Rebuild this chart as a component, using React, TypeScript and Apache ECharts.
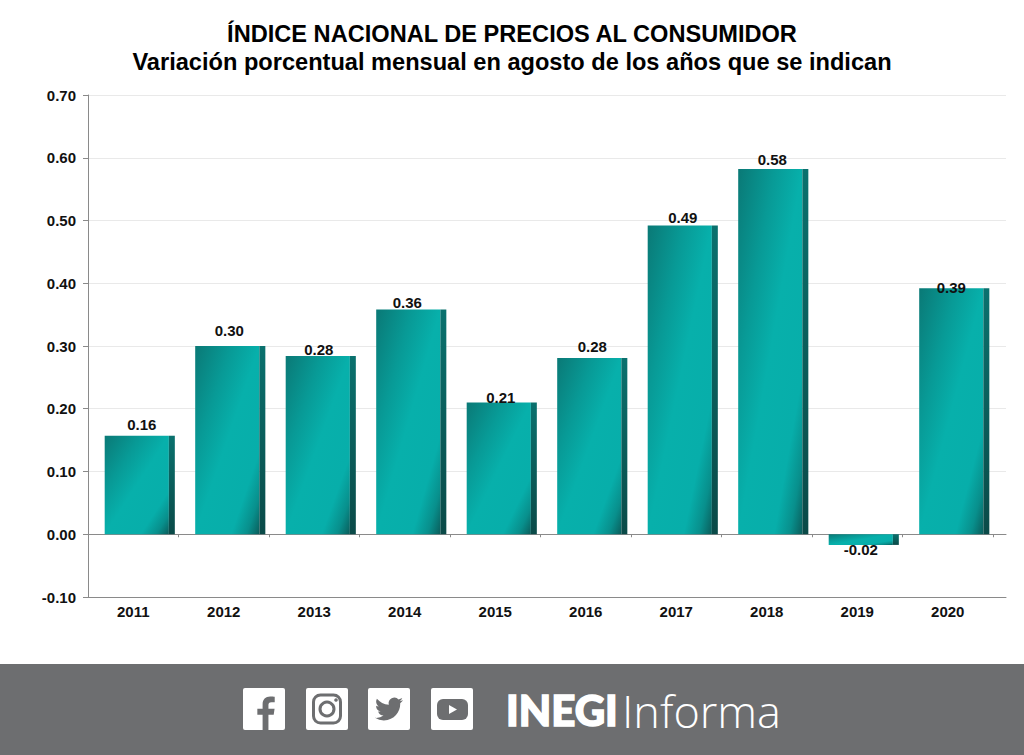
import React, { useEffect, useRef } from "react";
import * as echarts from "echarts";

const titleLines = [
  "ÍNDICE NACIONAL DE PRECIOS AL CONSUMIDOR",
  "Variación porcentual mensual en agosto de los años que se indican",
];
const years = ["2011", "2012", "2013", "2014", "2015", "2016", "2017", "2018", "2019", "2020"];
const values = [0.157, 0.3, 0.284, 0.358, 0.21, 0.281, 0.492, 0.582, -0.017, 0.392];
// Label placement relative to each bar end, as seen in the picture (px).
const labelLift = [11, 16, 7, 7, 5, 11, 8, 10, -5, 1];
const labelShift = [2, -1, -2, -4, -1, 0, 0, -1, -3, -3];

const FOOT = "#6d6e70";
const FONT = '"Liberation Sans", Arial, sans-serif';

echarts.graphic.registerShape(
  "fbGlyph",
  echarts.graphic.extendPath(
    "M14 24V13.5h3.6l.6-4H14V7c0-1.2.4-2 2.1-2h2.2V1.2C17.7 1.1 16.4 1 15.2 1 12 1 10 3 10 6.4v3.1H6.4v4H10V24z",
    {}
  )
);
echarts.graphic.registerShape(
  "twGlyph",
  echarts.graphic.extendPath(
    "M23.953 4.57 a10 10 0 0 1 -2.825 .775 a4.958 4.958 0 0 0 2.163 -2.723 c-.951.555-2.005.959-3.127 1.184 a4.92 4.92 0 0 0 -8.384 4.482 C7.69 8.095 4.067 6.13 1.64 3.162 a4.822 4.822 0 0 0 -.666 2.475 c0 1.71.87 3.213 2.188 4.096 a4.904 4.904 0 0 1 -2.228 -.616 v.06 a4.923 4.923 0 0 0 3.946 4.827 a4.996 4.996 0 0 1 -2.212 .085 a4.936 4.936 0 0 0 4.604 3.417 a9.867 9.867 0 0 1 -6.102 2.105 c-.39 0-.779-.023-1.17-.067 a13.995 13.995 0 0 0 7.557 2.209 c9.053 0 13.998-7.496 13.998-13.985 0-.21 0-.42-.015-.63 A9.935 9.935 0 0 0 24 4.59 z",
    {}
  )
);

const bodyGradient = {
  type: "linear", x: 0, y: 0, x2: 1, y2: 1,
  colorStops: [
    { offset: 0, color: "#0a7976" },
    { offset: 0.28, color: "#089a96" },
    { offset: 0.5, color: "#07b0ab" },
    { offset: 0.78, color: "#07aeaa" },
    { offset: 0.9, color: "#088f8c" },
    { offset: 1, color: "#0a5d5b" },
  ],
};
const sideGradient = {
  type: "linear", x: 0, y: 0, x2: 0, y2: 1,
  colorStops: [
    { offset: 0, color: "#0a716e" },
    { offset: 1, color: "#0a4a48" },
  ],
};

function renderBar(params: any, api: any) {
  const i = api.value(0);
  const v = api.value(1);
  const base = api.coord([i, 0]);
  const end = api.coord([i, v]);
  const step = api.size([1, 0])[0];
  const w = step * 0.775;
  const cx = base[0] + step * 0.072;
  const left = cx - w / 2;
  const top = Math.min(base[1], end[1]);
  const h = Math.abs(base[1] - end[1]);
  const side = w * 0.085;
  return {
    type: "group",
    children: [
      { type: "rect", shape: { x: left, y: top, width: w - side, height: h }, style: { fill: bodyGradient } },
      { type: "rect", shape: { x: left + w - side, y: top, width: side, height: h }, style: { fill: sideGradient } },
      {
        type: "text",
        style: {
          text: v.toFixed(2),
          x: cx + labelShift[i],
          y: end[1] - labelLift[i],
          align: "center",
          verticalAlign: "middle",
          font: `bold 15px ${FONT}`,
          fill: "#111111",
        },
      },
    ],
  };
}

const axisLine = { lineStyle: { color: "#8a8a8a", width: 1 } };
const splitLine = { show: true, lineStyle: { color: "#e9e9e9", width: 1 } };

function icon(x: number) {
  return { type: "rect", shape: { x, y: 688, width: 42, height: 42, r: 2 }, style: { fill: "#ffffff" } };
}

export default function App() {
  const ref = useRef<HTMLDivElement>(null);
  useEffect(() => {
    const chart = echarts.init(ref.current!, undefined, { renderer: "svg" });
    chart.setOption({
      animation: false,
      backgroundColor: "#ffffff",
      grid: [
        { left: 88, right: 31, top: 95, bottom: 158, containLabel: false },
        { left: 993, right: 18, top: 95, bottom: 158, containLabel: false },
      ],
      xAxis: [
        {
          gridIndex: 0, type: "category", data: years, position: "bottom",
          axisLine: { ...axisLine, onZero: true },
          axisTick: { show: true, length: 3, lineStyle: { color: "#8a8a8a" } },
          axisLabel: { show: false },
        },
        {
          gridIndex: 0, type: "category", data: years, position: "bottom",
          axisLine: { ...axisLine, onZero: false },
          axisTick: { show: false },
          axisLabel: { show: true, color: "#111111", fontFamily: FONT, fontWeight: "bold", fontSize: 15, margin: 7, interval: 0 },
        },
        {
          gridIndex: 1, type: "category", data: [""], position: "bottom",
          axisLine: { ...axisLine, onZero: true },
          axisTick: { show: false },
          axisLabel: { show: false },
        },
        {
          gridIndex: 1, type: "category", data: [""], position: "bottom",
          axisLine: { ...axisLine, onZero: false },
          axisTick: { show: false },
          axisLabel: { show: false },
        },
      ],
      yAxis: [
        {
          gridIndex: 0, type: "value", min: -0.1, max: 0.7, interval: 0.1,
          axisLine: { show: true, ...axisLine },
          axisTick: { show: true, length: 5, lineStyle: { color: "#8a8a8a" } },
          axisLabel: {
            color: "#111111", fontFamily: FONT, fontWeight: "bold", fontSize: 15, margin: 12,
            formatter: (v: number) => v.toFixed(2),
          },
          splitLine,
        },
        {
          gridIndex: 1, type: "value", min: -0.1, max: 0.7, interval: 0.1,
          axisLine: { show: false },
          axisTick: { show: false },
          axisLabel: { show: false },
          splitLine,
        },
      ],
      series: [
        {
          type: "custom",
          xAxisIndex: 0,
          yAxisIndex: 0,
          renderItem: renderBar,
          encode: { x: 0, y: 1 },
          data: values.map((v, i) => [i, v]),
          z: 5,
        },
      ],
      graphic: [
        {
          type: "text",
          style: { text: titleLines[0], x: 512, y: 34, align: "center", verticalAlign: "middle", font: `bold 23.6px ${FONT}`, fill: "#000000" },
        },
        {
          type: "text",
          style: { text: titleLines[1], x: 512, y: 62, align: "center", verticalAlign: "middle", font: `bold 23.6px ${FONT}`, fill: "#000000" },
        },
        { type: "rect", shape: { x: 0, y: 664, width: 1024, height: 91 }, style: { fill: FOOT } },
        icon(243), icon(306), icon(368), icon(431),
        { type: "fbGlyph", x: 248, y: 695, scaleX: 1.46, scaleY: 1.46, style: { fill: FOOT } },
        { type: "rect", shape: { x: 313.5, y: 695, width: 27, height: 28, r: 7 }, style: { fill: "none", stroke: FOOT, lineWidth: 3 } },
        { type: "circle", shape: { cx: 327, cy: 709, r: 7 }, style: { fill: "none", stroke: FOOT, lineWidth: 3 } },
        { type: "circle", shape: { cx: 336, cy: 700, r: 1.8 }, style: { fill: FOOT } },
        { type: "twGlyph", x: 375, y: 695, scaleX: 1.17, scaleY: 1.17, style: { fill: FOOT } },
        { type: "rect", shape: { x: 437, y: 699, width: 31, height: 21, r: 6 }, style: { fill: FOOT } },
        { type: "polygon", shape: { points: [[449, 705], [449, 714], [457, 709.5]] }, style: { fill: "#ffffff" } },
        {
          type: "text",
          style: { text: "INEGI", x: 506, y: 710, align: "left", verticalAlign: "middle", font: `900 42px Lato, ${FONT}`, fill: "#ffffff", stroke: "#ffffff", lineWidth: 1.5 },
        },
        {
          type: "text",
          style: { text: "Informa", x: 622, y: 710, align: "left", verticalAlign: "middle", font: `300 45px "Open Sans", ${FONT}`, fill: "#ffffff" },
        },
      ],
    });
    return () => chart.dispose();
  }, []);
  return <div ref={ref} style={{ position: "absolute", left: 0, top: 0, width: 1024, height: 755 }} />;
}
